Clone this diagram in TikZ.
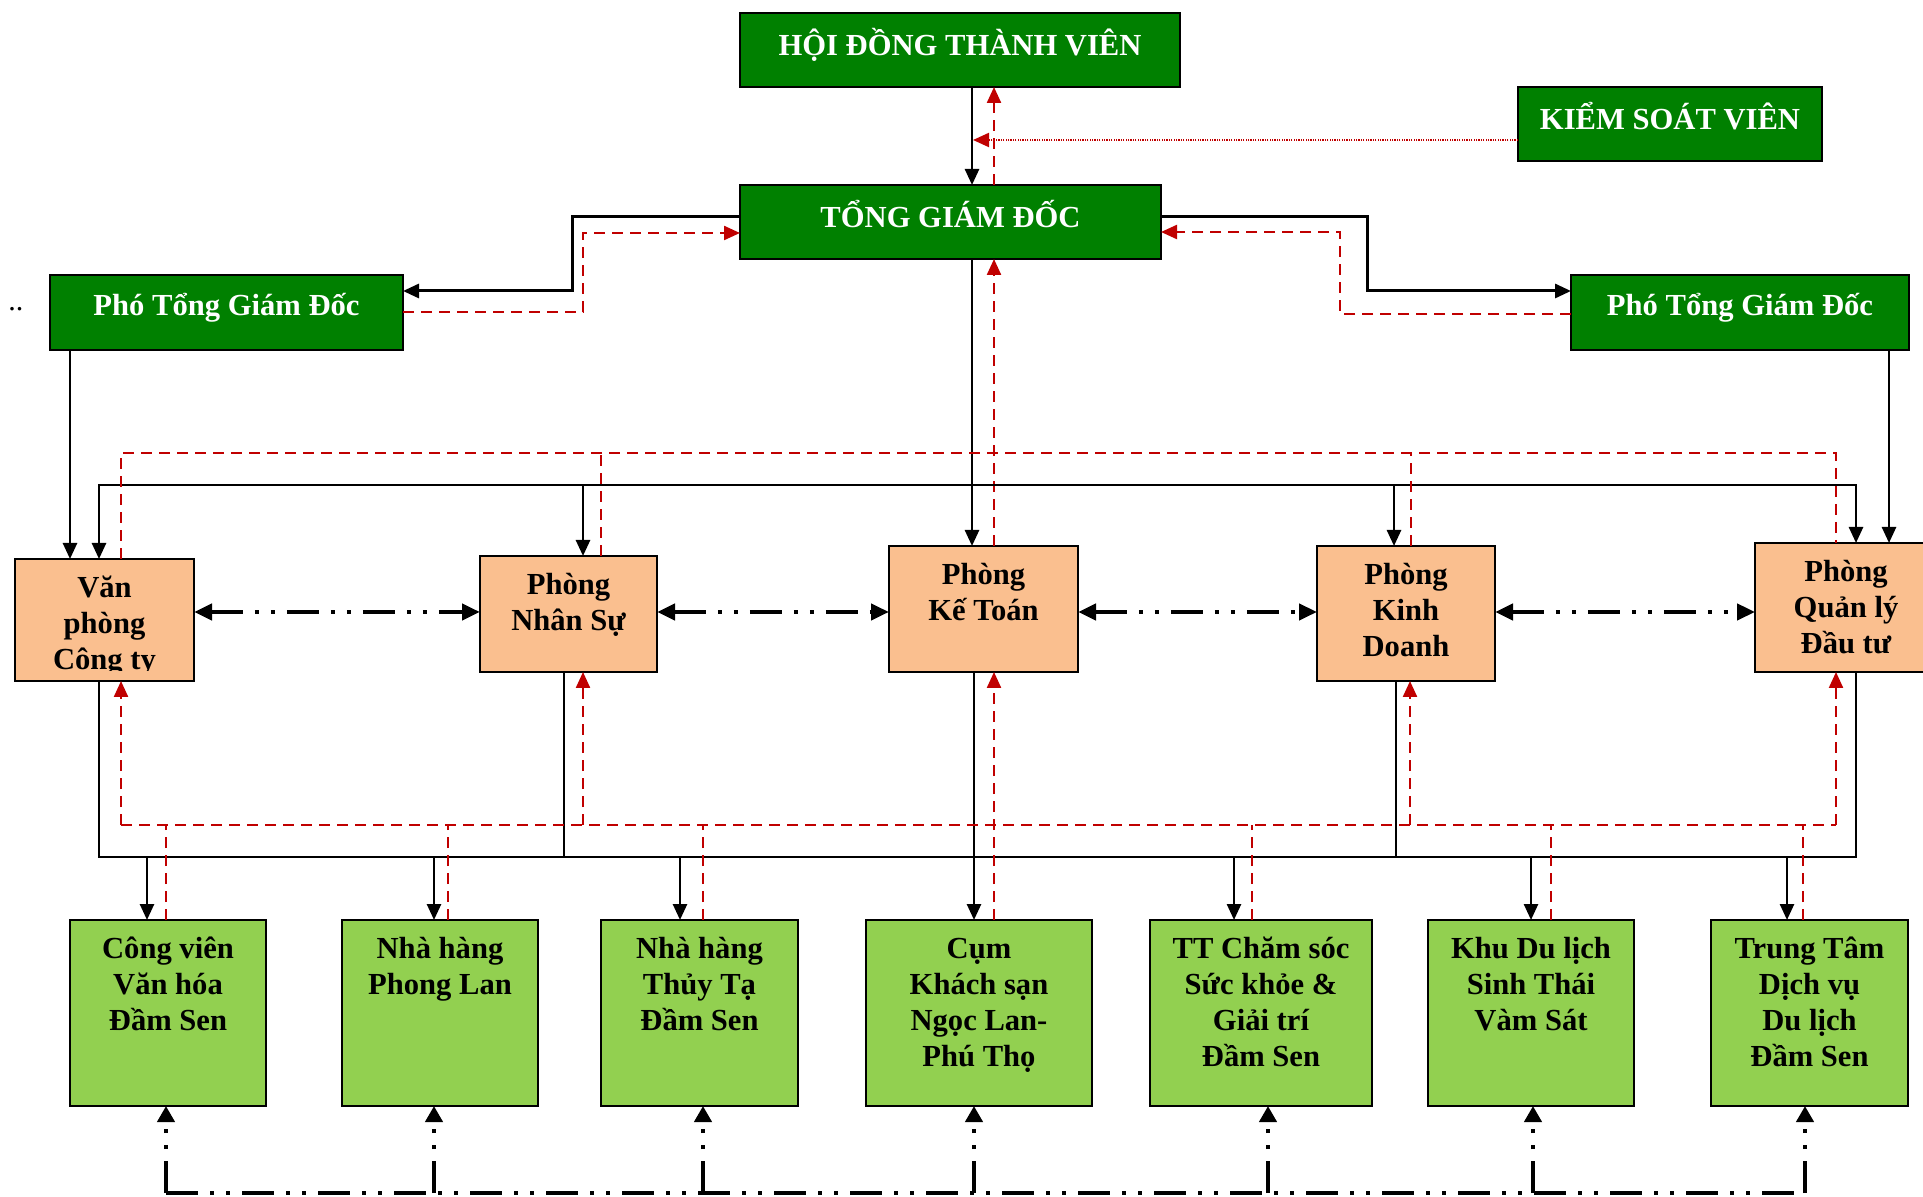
\documentclass[tikz,border=0pt]{standalone}
\usepackage{fontspec}
\setmainfont{Liberation Serif}
\usetikzlibrary{arrows.meta}
\definecolor{dkgreen}{RGB}{0,128,0}
\definecolor{peach}{RGB}{250,191,143}
\definecolor{ltgreen}{RGB}{146,208,80}
\definecolor{dkred}{RGB}{192,0,0}
\newcommand\mkbox[6]{\node[#6, minimum width={(#4-#2)*0.5pt}, minimum height={(#5-#3)*0.5pt}] (#1) at ({(#2+#4)/2},{(#3+#5)/2}) {};}
\begin{document}
\begin{tikzpicture}[x=0.5pt,y=-0.5pt,
  >={Triangle[length=8pt,width=7pt]},
  boxbase/.style={draw=black,line width=1.2pt,inner sep=0pt,outer sep=0pt},
  topbox/.style={boxbase,fill=dkgreen},
  deptbox/.style={boxbase,fill=peach},
  unitbox/.style={boxbase,fill=ltgreen},
  txtbase/.style={font=\fontsize{15.3}{18}\selectfont\bfseries,inner sep=0pt,align=center,anchor=north},
  wtxt/.style={txtbase,text=white},
  ktxt/.style={txtbase,text=black},
  blk/.style={draw=black,line width=1.3pt},
  blkb/.style={draw=black,line width=1.5pt},
  rdash/.style={draw=dkred,line width=1.15pt,dash pattern=on 5.5pt off 3.5pt},
  rdot/.style={draw=dkred,line width=1pt,dash pattern=on 0.6pt off 0.6pt},
  ddot/.style={draw=black,line width=2.4pt,dash pattern=on 16pt off 6pt on 2pt off 6pt on 2pt off 6pt},
]
\useasboundingbox (0,0) rectangle (1923,1197);

% ---------- boxes ----------
\mkbox{hdtv}{740}{13}{1180}{87}{topbox}
\mkbox{ksv}{1518}{87}{1822}{161}{topbox}
\mkbox{tgd}{740}{185}{1161}{259}{topbox}
\mkbox{ptl}{50}{275}{403}{350}{topbox}
\mkbox{ptr}{1571}{275}{1909}{350}{topbox}
\mkbox{vp}{15}{559}{194}{681}{deptbox}
\mkbox{ns}{480}{556}{657}{672}{deptbox}
\mkbox{kt}{889}{546}{1078}{672}{deptbox}
\mkbox{kd}{1317}{546}{1495}{681}{deptbox}
\mkbox{ql}{1755}{543}{1937}{672}{deptbox}
\mkbox{ua}{70}{920}{266}{1106}{unitbox}
\mkbox{ub}{342}{920}{538}{1106}{unitbox}
\mkbox{uc}{601}{920}{798}{1106}{unitbox}
\mkbox{ud}{866}{920}{1092}{1106}{unitbox}
\mkbox{ue}{1150}{920}{1372}{1106}{unitbox}
\mkbox{uf}{1428}{920}{1634}{1106}{unitbox}
\mkbox{ug}{1711}{920}{1908}{1106}{unitbox}

% ---------- texts ----------
\node[wtxt] (hdtvT) at ([yshift=-7.4pt]hdtv.north) {\strut HỘI ĐỒNG THÀNH VIÊN};
\node[wtxt] (ksvT) at ([yshift=-7.4pt]ksv.north) {\strut KIỂM SOÁT VIÊN};
\node[wtxt] (tgdT) at ([yshift=-7.4pt]tgd.north) {\strut TỔNG GIÁM ĐỐC};
\node[wtxt] (ptlT) at ([yshift=-7.4pt]ptl.north) {\strut Phó Tổng Giám Đốc};
\node[wtxt] (ptrT) at ([yshift=-7.4pt]ptr.north) {\strut Phó Tổng Giám Đốc};
\begin{scope}
  \clip (vp.north west) rectangle (vp.east |- 0,671);
  \node[ktxt] (vpT) at ([yshift=-6.6pt]vp.north) {\strut Văn\\\strut phòng\\\strut Công ty};
\end{scope}
\node[ktxt] (nsT) at ([yshift=-6.6pt]ns.north) {\strut Phòng\\\strut Nhân Sự};
\node[ktxt] (ktT) at ([yshift=-6.6pt]kt.north) {\strut Phòng\\\strut Kế Toán};
\node[ktxt] (kdT) at ([yshift=-6.6pt]kd.north) {\strut Phòng\\\strut Kinh\\\strut Doanh};
\node[ktxt] (qlT) at ([yshift=-6.6pt]ql.north) {\strut Phòng\\\strut Quản lý\\\strut Đầu tư};
\node[ktxt] (uaT) at ([yshift=-6.6pt]ua.north) {\strut Công viên\\\strut Văn hóa\\\strut Đầm Sen};
\node[ktxt] (ubT) at ([yshift=-6.6pt]ub.north) {\strut Nhà hàng\\\strut Phong Lan};
\node[ktxt] (ucT) at ([yshift=-6.6pt]uc.north) {\strut Nhà hàng\\\strut Thủy Tạ\\\strut Đầm Sen};
\node[ktxt] (udT) at ([yshift=-6.6pt]ud.north) {\strut Cụm\\\strut Khách sạn\\\strut Ngọc Lan-\\\strut Phú Thọ};
\node[ktxt] (ueT) at ([yshift=-6.6pt]ue.north) {\strut TT Chăm sóc\\\strut Sức khỏe \&\\\strut Giải trí\\\strut Đầm Sen};
\node[ktxt] (ufT) at ([yshift=-6.6pt]uf.north) {\strut Khu Du lịch\\\strut Sinh Thái\\\strut Vàm Sát};
\node[ktxt] (ugT) at ([yshift=-6.6pt]ug.north) {\strut Trung Tâm\\\strut Dịch vụ\\\strut Du lịch\\\strut Đầm Sen};
\node[font=\fontsize{15}{18}\selectfont,inner sep=0pt,anchor=base west] (dots) at (8,311) {..};

% ---------- coordinates ----------
\coordinate (ksvEnd) at (973,140);
\coordinate (lTurn1) at (572,291);
\coordinate (lTurn2) at (583,233);
\coordinate (rTurn1) at (1367,291);
\coordinate (rTurn2) at (1340,232);
\coordinate (bTopL) at (99,485);
\coordinate (bTopR) at (1856,485);
\coordinate (rTopL) at (121,453);
\coordinate (rTopR) at (1836,453);
\coordinate (bBotL) at (99,857);
\coordinate (bBotR) at (1856,857);
\coordinate (rBotL) at (121,825);
\coordinate (rBotR) at (1836,825);
\coordinate (ddL) at (166,1193);
\coordinate (ddR) at (1805,1193);

% ---------- top ----------
\draw[blk,->] (hdtv.south -| 972,0) -- (tgd.north -| 972,0);
\draw[rdash,->] (tgd.north -| 994,0) -- (hdtv.south -| 994,0);
\draw[rdot,->] (ksv.west |- ksvEnd) -- (ksvEnd);
\draw[blkb,->] (tgd.west |- 0,217) -| (lTurn1) -- (ptl.east |- lTurn1);
\draw[rdash,->] (ptl.east |- 0,312) -| (lTurn2) -- (tgd.west |- lTurn2);
\draw[blkb,->] (tgd.east |- 0,217) -| (rTurn1) -- (ptr.west |- rTurn1);
\draw[rdash,->] (ptr.west |- 0,314) -| (rTurn2) -- (tgd.east |- rTurn2);
\draw[blk,->] (tgd.south -| 972,0) -- (kt.north -| 972,0);
\draw[rdash,->] (kt.north -| 994,0) -- (tgd.south -| 994,0);
\draw[blk,->] (ptl.south -| 70,0) -- (vp.north -| 70,0);
\draw[blk,->] (ptr.south -| 1889,0) -- (ql.north -| 1889,0);

% upper black bus
\draw[blk,<->] (vp.north -| bTopL) -- (bTopL) -- (bTopR) -- (ql.north -| bTopR);
\draw[blk,->] (bTopL -| 583,0) -- (ns.north -| 583,0);
\draw[blk,->] (bTopL -| 1394,0) -- (kd.north -| 1394,0);
% upper red bus
\draw[rdash] (vp.north -| rTopL) -- (rTopL) -- (rTopR) -- (ql.north -| rTopR);
\draw[rdash] (ns.north -| 601,0) -- (rTopL -| 601,0);
\draw[rdash] (kd.north -| 1411,0) -- (rTopL -| 1411,0);

% department links
\draw[ddot,{Triangle[length=9pt,width=8pt]}-{Triangle[length=9pt,width=8pt]}] (vp.east |- 0,612) -- (ns.west |- 0,612);
\draw[ddot,{Triangle[length=9pt,width=8pt]}-{Triangle[length=9pt,width=8pt]}] (ns.east |- 0,612) -- (kt.west |- 0,612);
\draw[ddot,{Triangle[length=9pt,width=8pt]}-{Triangle[length=9pt,width=8pt]}] (kt.east |- 0,612) -- (kd.west |- 0,612);
\draw[ddot,{Triangle[length=9pt,width=8pt]}-{Triangle[length=9pt,width=8pt]}] (kd.east |- 0,612) -- (ql.west |- 0,612);

% lower black bus
\draw[blk] (vp.south -| bBotL) -- (bBotL) -- (bBotR) -- (ql.south -| bBotR);
\draw[blk] (ns.south -| 564,0) -- (bBotL -| 564,0);
\draw[blk] (kd.south -| 1396,0) -- (bBotL -| 1396,0);
\draw[blk,->] (bBotL -| 147,0) -- (ua.north -| 147,0);
\draw[blk,->] (bBotL -| 434,0) -- (ub.north -| 434,0);
\draw[blk,->] (bBotL -| 680,0) -- (uc.north -| 680,0);
\draw[blk,->] (kt.south -| 974,0) -- (ud.north -| 974,0);
\draw[blk,->] (bBotL -| 1234,0) -- (ue.north -| 1234,0);
\draw[blk,->] (bBotL -| 1531,0) -- (uf.north -| 1531,0);
\draw[blk,->] (bBotL -| 1787,0) -- (ug.north -| 1787,0);

% lower red bus
\draw[rdash] (rBotL) -- (rBotR);
\draw[rdash,->] (rBotL) -- (vp.south -| rBotL);
\draw[rdash,->] (rBotL -| 583,0) -- (ns.south -| 583,0);
\draw[rdash,->] (rBotL -| 1410,0) -- (kd.south -| 1410,0);
\draw[rdash,->] (rBotR) -- (ql.south -| rBotR);
\draw[rdash] (ua.north -| 166,0) -- (rBotL -| 166,0);
\draw[rdash] (ub.north -| 448,0) -- (rBotL -| 448,0);
\draw[rdash] (uc.north -| 703,0) -- (rBotL -| 703,0);
\draw[rdash,->] (ud.north -| 994,0) -- (kt.south -| 994,0);
\draw[rdash] (ue.north -| 1252,0) -- (rBotL -| 1252,0);
\draw[rdash] (uf.north -| 1551,0) -- (rBotL -| 1551,0);
\draw[rdash] (ug.north -| 1803,0) -- (rBotL -| 1803,0);

% bottom dash-dot links
\draw[ddot] (ddL) -- (ddR);
\foreach \xx/\uu in {166/ua,434/ub,703/uc,974/ud,1268/ue,1533/uf,1805/ug}{
  \draw[ddot,-{Triangle[length=8pt,width=8.5pt]}] (ddL -| \xx,0) -- (\uu.south -| \xx,0);
}
\end{tikzpicture}
\end{document}
